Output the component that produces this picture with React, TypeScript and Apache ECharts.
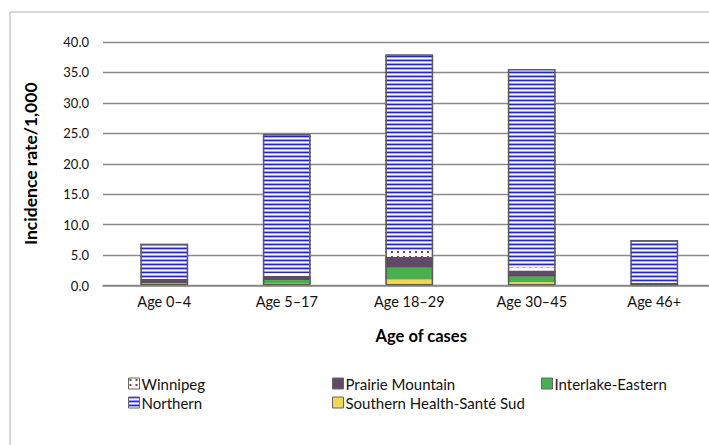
import React, { useEffect, useRef } from "react";
import * as echarts from "echarts";

const categories = ["Age 0–4", "Age 5–17", "Age 18–29", "Age 30–45", "Age 46+"];
const southern = [0.3, 0.3, 1.0, 0.55, 0.05];
const interlake = [0.05, 0.6, 1.9, 0.9, 0.15];
const prairie = [0.7, 0.7, 1.8, 1.0, 0.2];
const winnipeg = [0.1, 0.4, 1.1, 0.5, 0.05];
const northern = [5.7, 22.9, 32.2, 32.6, 7.0];
const yTicks = [0, 5, 10, 15, 20, 25, 30, 35, 40];

function makeNorthernPattern() {
  const c = document.createElement("canvas");
  c.width = 8;
  c.height = 4;
  const ctx = c.getContext("2d")!;
  const rows = ["#1f1fff", "#aeaef4", "#ffffff", "#9c9cf0"];
  rows.forEach((col, i) => {
    ctx.fillStyle = col;
    ctx.fillRect(0, i, 8, 1);
  });
  return c;
}

function makeWinnipegPattern() {
  const c = document.createElement("canvas");
  c.width = 6;
  c.height = 5;
  const ctx = c.getContext("2d")!;
  ctx.fillStyle = "#ffffff";
  ctx.fillRect(0, 0, 6, 5);
  ctx.fillStyle = "#7a4a2a";
  ctx.fillRect(1, 1, 2, 2);
  return c;
}

export default function App() {
  const ref = useRef<HTMLDivElement>(null);
  useEffect(() => {
    if (!ref.current) return;
    const chart = echarts.init(ref.current, undefined, { renderer: "svg" });
    const northernColor = { image: makeNorthernPattern(), repeat: "repeat" };
    const winnipegColor = { image: makeWinnipegPattern(), repeat: "repeat" };
    const totals = categories.map(
      (_, i) => southern[i] + interlake[i] + prairie[i] + winnipeg[i] + northern[i]
    );
    const font = "Lato, 'Open Sans', sans-serif";
    const mk = (name: string, data: number[], color: any) => ({
      name,
      type: "bar",
      stack: "total",
      data,
      barWidth: "39%",
      barGap: "-100%",
      itemStyle: { color },
    });
    const legendItem = (name: string, left: number, top: number) => ({
      data: [{ name, icon: "rect" }],
      left,
      top,
      padding: 0,
      itemWidth: 11,
      itemHeight: 11,
      itemGap: 4,
      selectedMode: false,
      textStyle: { fontFamily: font, fontSize: 15, color: "#111", padding: [0, 0, 0, -3] },
      itemStyle: { borderColor: "#666", borderWidth: 1 },
    });
    chart.setOption({
      animation: false,
      textStyle: { fontFamily: font },
      graphic: [
        {
          type: "rect",
          shape: { x: 10, y: 12, width: 760, height: 480 },
          style: { fill: "none", stroke: "#b0b0b0", lineWidth: 1 },
          silent: true,
        },
      ],
      legend: [
        legendItem("Winnipeg", 128, 376),
        legendItem("Prairie Mountain", 332, 376),
        legendItem("Interlake-Eastern", 541, 376),
        legendItem("Northern", 128, 395),
        legendItem("Southern Health-Santé Sud", 332, 395),
      ],
      grid: { left: 103, top: 42, width: 612.5, height: 243.5 },
      xAxis: {
        type: "category",
        data: categories,
        name: "Age of cases",
        nameLocation: "middle",
        nameGap: 42,
        nameTextStyle: {
          fontFamily: font,
          fontSize: 16.5,
          fontWeight: "bold",
          color: "#000",
          padding: [0, 0, 0, 24],
        },
        axisLine: { lineStyle: { color: "#888", width: 1.5 } },
        axisTick: { show: false },
        axisLabel: { fontFamily: font, fontSize: 14.5, color: "#111", margin: 8 },
      },
      yAxis: {
        type: "value",
        min: 0,
        max: 40,
        interval: 5,
        name: "Incidence rate/1,000",
        nameLocation: "middle",
        nameGap: 64,
        nameTextStyle: { fontFamily: font, fontSize: 17.5, fontWeight: "bold", color: "#000" },
        axisLine: { show: false },
        axisTick: { show: false },
        splitLine: { lineStyle: { color: "#8a8a8a", width: 1.3 } },
        axisLabel: {
          fontFamily: font,
          fontSize: 13,
          color: "#111",
          margin: 14,
          formatter: (v: number) => (yTicks.includes(v) ? v.toFixed(1) : ""),
        },
      },
      series: [
        mk("Southern Health-Santé Sud", southern, "#f2d553"),
        mk("Interlake-Eastern", interlake, "#49b050"),
        mk("Prairie Mountain", prairie, "#614a68"),
        mk("Winnipeg", winnipeg, winnipegColor),
        mk("Northern", northern, northernColor),
        {
          name: "outline",
          type: "bar",
          data: totals,
          barWidth: "39%",
          barGap: "-100%",
          silent: true,
          itemStyle: { color: "rgba(0,0,0,0)", borderColor: "#5a5a5a", borderWidth: 1.5 },
        },
      ],
    });
    return () => chart.dispose();
  }, []);
  return (
    <div
      style={{
        position: "fixed",
        left: 0,
        top: 0,
        width: 709,
        height: 445,
        overflow: "hidden",
        background: "#fff",
      }}
    >
      <div ref={ref} style={{ width: 740, height: 445 }} />
    </div>
  );
}
